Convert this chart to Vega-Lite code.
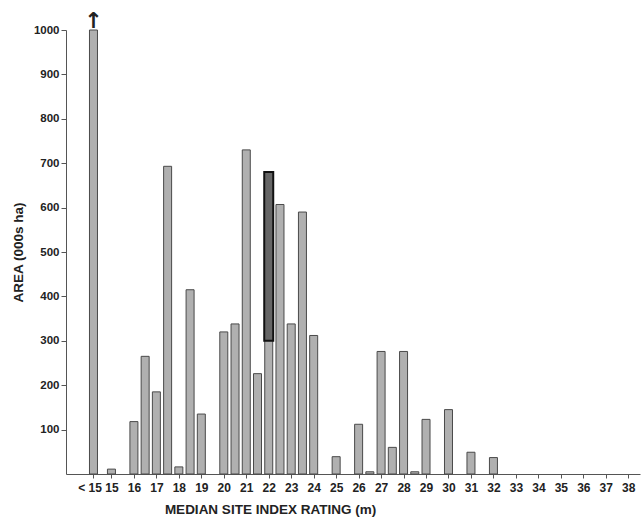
{
  "$schema": "https://vega.github.io/schema/vega-lite/v6.json",
  "autosize": {"type": "none"},
  "width": 574,
  "height": 444,
  "padding": {"left": 66, "top": 30, "right": 3, "bottom": 50},
  "background": "white",
  "config": {
    "view": {"stroke": null},
    "axis": {
      "labelFont": "Liberation Sans",
      "labelFontWeight": "bold",
      "titleFont": "Liberation Sans",
      "titleFontWeight": "bold",
      "domainColor": "#555",
      "tickColor": "#555",
      "labelColor": "#222",
      "titleColor": "#222",
      "grid": false
    }
  },
  "data": {
    "values": [
      {"site": 14.2, "area": 1000},
      {"site": 15, "area": 11},
      {"site": 16, "area": 118},
      {"site": 16.5, "area": 265},
      {"site": 17, "area": 185},
      {"site": 17.5, "area": 693},
      {"site": 18, "area": 16},
      {"site": 18.5, "area": 415},
      {"site": 19, "area": 135},
      {"site": 20, "area": 320},
      {"site": 20.5, "area": 338},
      {"site": 21, "area": 730},
      {"site": 21.5, "area": 226},
      {"site": 22, "area": 680, "boxlow": 300},
      {"site": 22.5, "area": 607},
      {"site": 23, "area": 338},
      {"site": 23.5, "area": 590},
      {"site": 24, "area": 312},
      {"site": 25, "area": 39},
      {"site": 26, "area": 112},
      {"site": 26.5, "area": 5},
      {"site": 27, "area": 276},
      {"site": 27.5, "area": 60},
      {"site": 28, "area": 276},
      {"site": 28.5, "area": 5},
      {"site": 29, "area": 123},
      {"site": 30, "area": 145},
      {"site": 31, "area": 49},
      {"site": 32, "area": 37}
    ]
  },
  "encoding": {
    "x": {
      "field": "site", "type": "quantitative",
      "scale": {"domain": [13.2, 38.3], "nice": false, "zero": false},
      "axis": {
        "values": [14.2, 15, 16, 17, 18, 19, 20, 21, 22, 23, 24, 25, 26, 27, 28, 29, 30, 31, 32, 33, 34, 35, 36, 37, 38],
        "labelExpr": "datum.value < 15 ? '< 15' : datum.label",
        "labelAlign": {"condition": {"test": "datum.value < 15", "value": "right"}, "value": "center"},
        "labelOffset": {"condition": {"test": "datum.value < 15", "value": 8}, "value": 0},
        "labelOverlap": false,
        "labelFlush": false,
        "labelFontSize": 12,
        "tickSize": 4,
        "labelPadding": 4,
        "title": "MEDIAN SITE INDEX RATING   (m)",
        "titleFontSize": 13.5,
        "titleX": 204,
        "titleAlign": "center",
        "titlePadding": 9
      }
    },
    "y": {
      "field": "area", "type": "quantitative",
      "scale": {"domain": [0, 1000], "nice": false},
      "axis": {
        "values": [100, 200, 300, 400, 500, 600, 700, 800, 900, 1000],
        "format": "d",
        "labelOverlap": false,
        "labelFlush": false,
        "labelFontSize": 11.5,
        "tickSize": 5,
        "labelPadding": 2,
        "title": "AREA (000s ha)",
        "titleFontSize": 13.5,
        "titlePadding": 8
      }
    }
  },
  "layer": [
    {
      "mark": {"type": "bar", "width": 8, "fill": "#b0b0b0", "stroke": "#4a4a4a", "strokeWidth": 1}
    },
    {
      "transform": [{"filter": "isValid(datum.boxlow)"}],
      "mark": {"type": "bar", "width": 9, "fill": "#666", "stroke": "#111", "strokeWidth": 2},
      "encoding": {
        "y2": {"field": "boxlow"}
      }
    },
    {
      "transform": [{"filter": "datum.area >= 1000"}],
      "mark": {"type": "text", "text": "↑", "font": "DejaVu Sans", "fontSize": 22, "fontWeight": "bold", "baseline": "bottom", "dy": 3, "color": "#222"}
    }
  ]
}
